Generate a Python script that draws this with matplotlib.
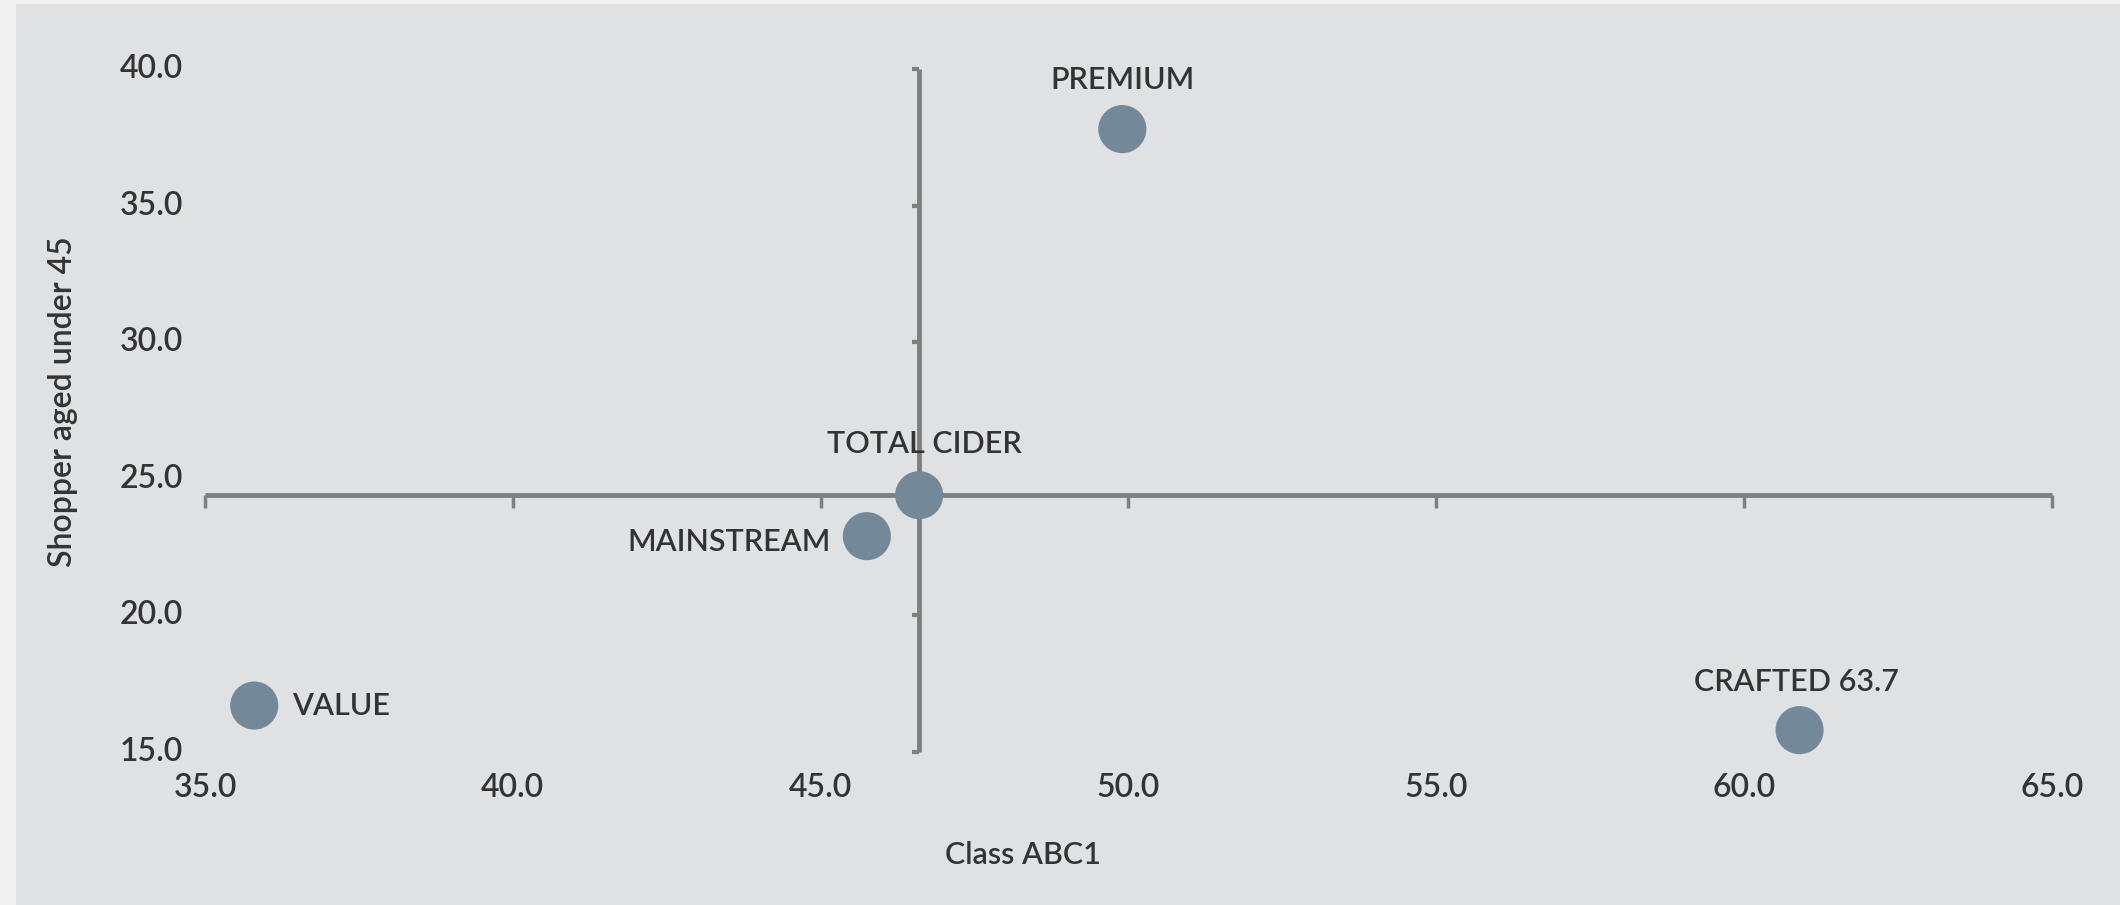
import matplotlib
matplotlib.use("Agg")
import matplotlib.pyplot as plt
from matplotlib.patches import Rectangle
import matplotlib.transforms as mtransforms

plt.rcParams['font.family'] = ['Lato', 'DejaVu Sans']

# segment positions: class ABC1 (x) vs shoppers aged under 45 (y)
segments = ['PREMIUM', 'TOTAL CIDER', 'MAINSTREAM', 'VALUE', 'CRAFTED 63.7']
abc1 = [49.9, 46.6, 45.75, 35.8, 60.9]
under45 = [37.8, 24.4, 22.9, 16.7, 15.8]

# quadrant cross point (total cider)
cross_x = 46.6
cross_y = 24.4

x_ticks = [35.0, 40.0, 45.0, 50.0, 55.0, 60.0, 65.0]
y_ticks = [15.0, 20.0, 25.0, 30.0, 35.0, 40.0]

bg = '#dfe1e3'
axis_col = '#7f7f7f'
dot_col = '#738899'
txt_col = '#333333'
fw = 'semibold'

W, H = 2120, 905
fig = plt.figure(figsize=(W / 100, H / 100), dpi=100)
fig.patch.set_facecolor(bg)
# pale border strips
fig.patches.append(Rectangle((0, 0), 16 / W, 1, transform=fig.transFigure,
                             facecolor='#f1f1f1', edgecolor='none', zorder=0))
fig.patches.append(Rectangle((0, 1 - 4 / H), 1, 4 / H, transform=fig.transFigure,
                             facecolor='#f1f1f1', edgecolor='none', zorder=0))

left, right, top, bottom = 205, 2052, 69, 752
ax = fig.add_axes([left / W, 1 - bottom / H, (right - left) / W, (bottom - top) / H])
ax.set_facecolor('none')
ax.set_xlim(35, 65)
ax.set_ylim(15, 40)

# axes crossing at the total cider point
ax.spines['top'].set_visible(False)
ax.spines['right'].set_visible(False)
ax.spines['left'].set_position(('data', cross_x))
ax.spines['bottom'].set_position(('data', cross_y))
for s in ['left', 'bottom']:
    ax.spines[s].set_color(axis_col)
    ax.spines[s].set_linewidth(3.5)
    ax.spines[s].set_capstyle('butt')

ax.set_xticks(x_ticks)
ax.set_yticks(y_ticks)
ax.tick_params(axis='x', direction='out', length=9, width=2.5, color=axis_col,
               labelbottom=False)
ax.tick_params(axis='y', direction='out', length=5, width=3, color=axis_col,
               labelleft=False)

# tick labels sit along the outer edges
xt = mtransforms.blended_transform_factory(ax.transData, ax.transAxes)
for v in x_ticks:
    ax.text(v, -0.053, f'{v:.1f}', transform=xt, ha='center', va='center',
            fontsize=23, fontweight=fw, color=txt_col)
yt = mtransforms.blended_transform_factory(ax.transAxes, ax.transData)
for v in y_ticks:
    ax.text(-0.012, v, f'{v:.1f}', transform=yt, ha='right', va='center',
            fontsize=23, fontweight=fw, color=txt_col)

ax.scatter(abc1, under45, s=1200, color=dot_col, edgecolors='none', zorder=3,
           clip_on=False)

offsets = {
    'PREMIUM': ((0, 35), 'center', 'center'),
    'TOTAL CIDER': ((4, 37), 'center', 'center'),
    'MAINSTREAM': ((-26, -4), 'right', 'center'),
    'VALUE': ((27, 0), 'left', 'center'),
    'CRAFTED 63.7': ((-2, 35), 'center', 'center'),
}
for name, xv, yv in zip(segments, abc1, under45):
    off, ha, va = offsets[name]
    ax.annotate(name, (xv, yv), xytext=off, textcoords='offset points',
                ha=ha, va=va, fontsize=22, fontweight=fw, color=txt_col, zorder=4)

fig.text(1023 / W, 1 - 855 / H, 'Class ABC1', ha='center', va='center',
         fontsize=22, fontweight=fw, color=txt_col)
fig.text(63 / W, 1 - 402 / H, 'Shopper aged under 45', ha='center', va='center',
         rotation=90, fontsize=23, fontweight=fw, color=txt_col)

fig.savefig('out.png', dpi=100, facecolor=fig.get_facecolor())
